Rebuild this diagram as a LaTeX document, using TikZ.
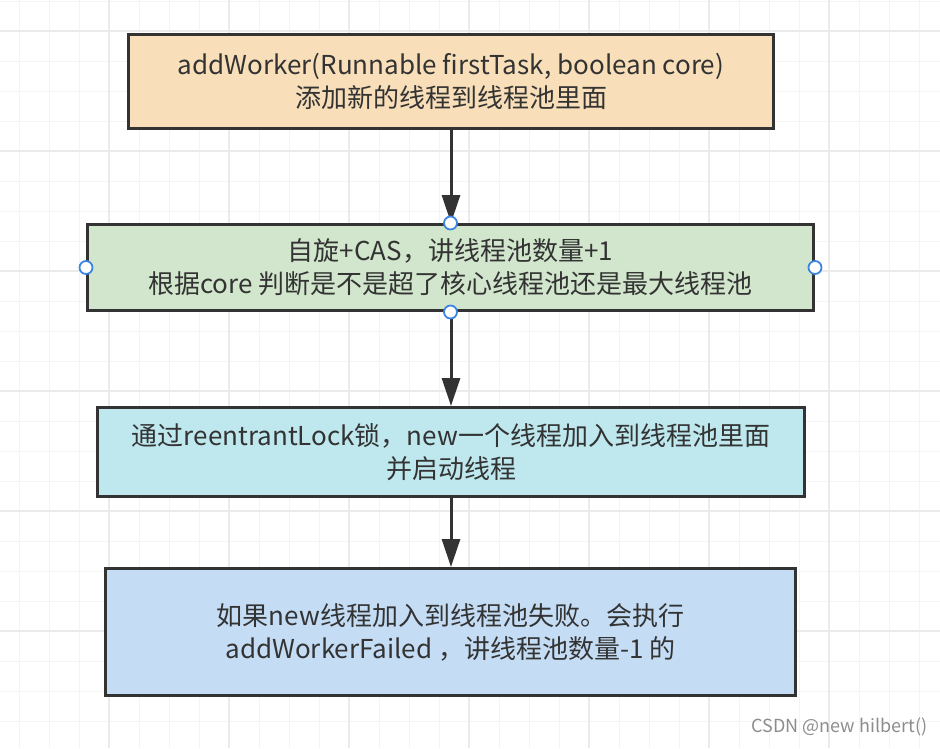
\documentclass[tikz,border=0pt]{standalone}
\usepackage{fontspec}
\setmainfont{Noto Sans CJK SC}
\usetikzlibrary{arrows.meta}
\definecolor{inkgray}{HTML}{333333}
\definecolor{gridminor}{HTML}{F4F4F4}
\definecolor{gridmajor}{HTML}{EBEBEB}
\definecolor{addfill}{HTML}{F8DFB9}
\definecolor{casfill}{HTML}{D1E6CC}
\definecolor{lockfill}{HTML}{BEE8EE}
\definecolor{failfill}{HTML}{C4DDF5}
\definecolor{handleblue}{HTML}{3D85E0}
\tikzset{
  stepbox/.style={rectangle,draw=inkgray,line width=3pt,text=inkgray,align=center,
    font=\fontsize{26}{33}\selectfont},
  flow/.style={draw=inkgray,line width=3pt,-{Triangle[width=18pt,length=28pt]}},
  handle/.style={circle,draw=handleblue,fill=white,line width=1.8pt,inner sep=0pt,minimum size=13pt}
}
\newcommand{\handleNode}{\node[handle]}
\begin{document}
\begin{tikzpicture}[x=1pt,y=-1pt]
    \useasboundingbox (0,0) rectangle (940,748);

    % background grid
    \foreach \x in {19,49,...,940}
        {\draw[gridminor,line width=1pt] (\x,0) -- (\x,748);}
    \foreach \y in {1,31,...,748}
        {\draw[gridminor,line width=1pt] (0,\y) -- (940,\y);}
    \foreach \x in {109,229,...,940}
        {\draw[gridmajor,line width=1.5pt] (\x,0) -- (\x,748);}
    \foreach \y in {31,151,...,748}
        {\draw[gridmajor,line width=1.5pt] (0,\y) -- (940,\y);}

    % the four steps
    \node[stepbox,fill=addfill,minimum width=645pt,minimum height=94pt] (add) at (451,81.5)
        {addWorker(Runnable firstTask, boolean core)\\添加新的线程到线程池里面};
    \node[stepbox,fill=casfill,minimum width=726pt,minimum height=86pt] (cas) at (450.5,267.5)
        {自旋+CAS，讲线程池数量+1\\根据core 判断是不是超了核心线程池还是最大线程池};
    \node[stepbox,fill=lockfill,minimum width=707pt,minimum height=89pt] (lock) at (451,452)
        {通过reentrantLock锁，new一个线程加入到线程池里面\\并启动线程};
    \node[stepbox,fill=failfill,minimum width=690pt,minimum height=127pt] (fail) at (450.5,632)
        {如果new线程加入到线程池失败。会执行\\addWorkerFailed ，讲线程池数量-1 的};

    % arrows
    \draw[flow] (add.south -| 451,0) -- (cas.north -| 451,0);
    \draw[flow] (cas.south -| 451,0) -- (lock.north -| 451,0);
    \draw[flow] (lock.south -| 451,0) -- (fail.north -| 451,0);

    % selection handles
    \handleNode (hn) at (cas.north) {};
    \handleNode (hs) at (cas.south) {};
    \handleNode (hw) at (cas.west) {};
    \handleNode (he) at (cas.east) {};

    \node[text=black!45,font=\fontsize{18}{20}\selectfont,anchor=east] (mark) at (931,727) {CSDN @new hilbert()};
\end{tikzpicture}
\end{document}
